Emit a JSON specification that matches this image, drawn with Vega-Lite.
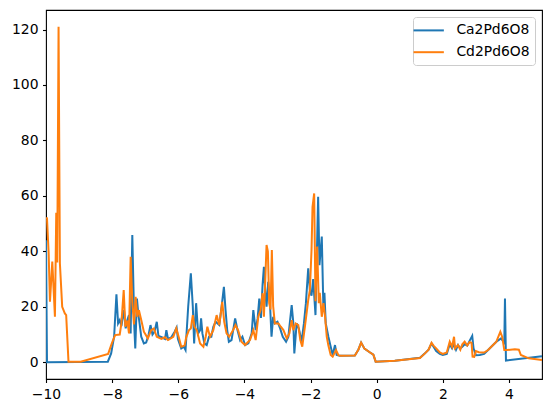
{
 "$schema": "https://vega.github.io/schema/vega-lite/v6.json",
 "width": 496,
 "height": 369,
 "autosize": {"type": "none"},
 "padding": {"left": 46, "top": 10, "right": 10, "bottom": 34},
 "datasets": {
  "ca": [
   {"e": -10.0, "d": 44}, {"e": -9.97, "d": 0}, {"e": -8.13, "d": 0.2}, {"e": -8.03, "d": 3.2}, {"e": -7.94, "d": 9.2},
   {"e": -7.87, "d": 24.5}, {"e": -7.82, "d": 14}, {"e": -7.77, "d": 15.2}, {"e": -7.72, "d": 13}, {"e": -7.64, "d": 18.8},
   {"e": -7.59, "d": 12.2}, {"e": -7.54, "d": 15.2}, {"e": -7.49, "d": 17}, {"e": -7.44, "d": 10.4}, {"e": -7.39, "d": 45.9},
   {"e": -7.33, "d": 12.8}, {"e": -7.30, "d": 5}, {"e": -7.25, "d": 23}, {"e": -7.21, "d": 17.6}, {"e": -7.17, "d": 14},
   {"e": -7.12, "d": 9.2}, {"e": -7.04, "d": 6.8}, {"e": -6.97, "d": 7.1}, {"e": -6.90, "d": 9.8}, {"e": -6.84, "d": 13.4},
   {"e": -6.78, "d": 10}, {"e": -6.72, "d": 11}, {"e": -6.65, "d": 14.6}, {"e": -6.60, "d": 9.5}, {"e": -6.50, "d": 9},
   {"e": -6.40, "d": 8.4}, {"e": -6.36, "d": 11.6}, {"e": -6.31, "d": 8.4}, {"e": -6.21, "d": 9}, {"e": -6.11, "d": 11},
   {"e": -6.05, "d": 12.5}, {"e": -6.01, "d": 8.4}, {"e": -5.91, "d": 5}, {"e": -5.83, "d": 5.6}, {"e": -5.78, "d": 4.4},
   {"e": -5.70, "d": 20}, {"e": -5.62, "d": 32.1}, {"e": -5.56, "d": 20}, {"e": -5.52, "d": 6.8}, {"e": -5.46, "d": 21.3},
   {"e": -5.40, "d": 10.4}, {"e": -5.34, "d": 11.6}, {"e": -5.31, "d": 15.8}, {"e": -5.27, "d": 10.4}, {"e": -5.21, "d": 6.8},
   {"e": -5.14, "d": 6.2}, {"e": -5.07, "d": 9.2}, {"e": -5.00, "d": 9.2}, {"e": -4.94, "d": 12.8}, {"e": -4.87, "d": 14.6},
   {"e": -4.76, "d": 13.4}, {"e": -4.69, "d": 20}, {"e": -4.62, "d": 27.2}, {"e": -4.57, "d": 18.8}, {"e": -4.52, "d": 11.6},
   {"e": -4.47, "d": 7.4}, {"e": -4.39, "d": 8}, {"e": -4.28, "d": 15.8}, {"e": -4.21, "d": 11.6}, {"e": -4.13, "d": 8},
   {"e": -4.06, "d": 9.2}, {"e": -3.98, "d": 6.2}, {"e": -3.88, "d": 6.8}, {"e": -3.78, "d": 10.4}, {"e": -3.73, "d": 18.8},
   {"e": -3.66, "d": 11.6}, {"e": -3.60, "d": 15.8}, {"e": -3.55, "d": 23}, {"e": -3.50, "d": 16}, {"e": -3.45, "d": 28},
   {"e": -3.41, "d": 34.4}, {"e": -3.36, "d": 24}, {"e": -3.33, "d": 20}, {"e": -3.28, "d": 29}, {"e": -3.23, "d": 22},
   {"e": -3.18, "d": 9.2}, {"e": -3.13, "d": 16.4}, {"e": -3.08, "d": 14}, {"e": -3.00, "d": 14.6}, {"e": -2.92, "d": 12.2},
   {"e": -2.84, "d": 9.2}, {"e": -2.74, "d": 7.4}, {"e": -2.67, "d": 9.2}, {"e": -2.57, "d": 20.6}, {"e": -2.52, "d": 14},
   {"e": -2.49, "d": 3.2}, {"e": -2.42, "d": 14}, {"e": -2.35, "d": 12}, {"e": -2.27, "d": 7.4}, {"e": -2.20, "d": 14},
   {"e": -2.14, "d": 21.3}, {"e": -2.07, "d": 33.9}, {"e": -2.02, "d": 26}, {"e": -1.97, "d": 24}, {"e": -1.92, "d": 30},
   {"e": -1.85, "d": 17}, {"e": -1.77, "d": 59.7}, {"e": -1.73, "d": 35}, {"e": -1.66, "d": 45.3}, {"e": -1.61, "d": 19},
   {"e": -1.58, "d": 25}, {"e": -1.54, "d": 14}, {"e": -1.46, "d": 9.2}, {"e": -1.39, "d": 5.6}, {"e": -1.33, "d": 2.6},
   {"e": -1.26, "d": 6.2}, {"e": -1.21, "d": 2.6}, {"e": -1.11, "d": 2.3}, {"e": -0.66, "d": 2.4}, {"e": -0.55, "d": 4.6},
   {"e": -0.47, "d": 7.1}, {"e": -0.37, "d": 4.9}, {"e": -0.20, "d": 3.5}, {"e": -0.10, "d": 2.7}, {"e": -0.03, "d": 0.2},
   {"e": 0.55, "d": 0.5}, {"e": 1.31, "d": 1.6}, {"e": 1.46, "d": 3.2}, {"e": 1.57, "d": 4.5}, {"e": 1.66, "d": 6.8},
   {"e": 1.72, "d": 5.6}, {"e": 1.80, "d": 4.0}, {"e": 1.91, "d": 3}, {"e": 2.00, "d": 2.6}, {"e": 2.12, "d": 3.0},
   {"e": 2.21, "d": 6.5}, {"e": 2.28, "d": 5}, {"e": 2.34, "d": 6.5}, {"e": 2.40, "d": 4.5}, {"e": 2.46, "d": 6.2},
   {"e": 2.53, "d": 5.0}, {"e": 2.59, "d": 5.6}, {"e": 2.66, "d": 6.5}, {"e": 2.74, "d": 6.0}, {"e": 2.81, "d": 7.7},
   {"e": 2.89, "d": 9.5}, {"e": 2.93, "d": 5}, {"e": 3.00, "d": 2.5}, {"e": 3.12, "d": 2.6}, {"e": 3.25, "d": 3},
   {"e": 3.37, "d": 4.4}, {"e": 3.52, "d": 6.2}, {"e": 3.62, "d": 7.4}, {"e": 3.76, "d": 8.6}, {"e": 3.86, "d": 7},
   {"e": 3.88, "d": 23}, {"e": 3.91, "d": 0.6}, {"e": 5.0, "d": 2.2}
  ],
  "cd": [
   {"e": -10.0, "d": 52}, {"e": -9.97, "d": 51.9}, {"e": -9.92, "d": 39.3}, {"e": -9.88, "d": 21.8}, {"e": -9.81, "d": 36.3},
   {"e": -9.73, "d": 16.4}, {"e": -9.69, "d": 53.9}, {"e": -9.66, "d": 36}, {"e": -9.62, "d": 121}, {"e": -9.58, "d": 35.7},
   {"e": -9.51, "d": 20}, {"e": -9.43, "d": 17.6}, {"e": -9.39, "d": 17}, {"e": -9.32, "d": 0.2}, {"e": -8.95, "d": 0.2},
   {"e": -8.12, "d": 3}, {"e": -8.01, "d": 6.8}, {"e": -7.91, "d": 9.8}, {"e": -7.77, "d": 10}, {"e": -7.72, "d": 14},
   {"e": -7.65, "d": 26}, {"e": -7.60, "d": 12.8}, {"e": -7.54, "d": 15}, {"e": -7.49, "d": 10.4}, {"e": -7.44, "d": 38},
   {"e": -7.39, "d": 21.8}, {"e": -7.34, "d": 13.6}, {"e": -7.29, "d": 23.6}, {"e": -7.24, "d": 16.4}, {"e": -7.19, "d": 18.8},
   {"e": -7.12, "d": 15.2}, {"e": -7.04, "d": 11}, {"e": -6.92, "d": 8.6}, {"e": -6.82, "d": 11.6}, {"e": -6.74, "d": 12.2},
   {"e": -6.65, "d": 9.2}, {"e": -6.51, "d": 8.4}, {"e": -6.41, "d": 9}, {"e": -6.31, "d": 8}, {"e": -6.15, "d": 9.2},
   {"e": -6.06, "d": 12.2}, {"e": -5.97, "d": 8.4}, {"e": -5.91, "d": 5.6}, {"e": -5.81, "d": 6}, {"e": -5.76, "d": 9},
   {"e": -5.68, "d": 11.5}, {"e": -5.62, "d": 12.2}, {"e": -5.56, "d": 17}, {"e": -5.51, "d": 12.8}, {"e": -5.44, "d": 11.6},
   {"e": -5.34, "d": 6.8}, {"e": -5.24, "d": 5.6}, {"e": -5.17, "d": 9.2}, {"e": -5.12, "d": 12.8}, {"e": -5.04, "d": 9.2},
   {"e": -4.94, "d": 11.6}, {"e": -4.84, "d": 17}, {"e": -4.76, "d": 13.4}, {"e": -4.67, "d": 21.8}, {"e": -4.61, "d": 14.6},
   {"e": -4.54, "d": 10.4}, {"e": -4.46, "d": 9.2}, {"e": -4.34, "d": 11.6}, {"e": -4.27, "d": 13.4}, {"e": -4.19, "d": 11.6},
   {"e": -4.09, "d": 7.4}, {"e": -3.98, "d": 6.2}, {"e": -3.83, "d": 8}, {"e": -3.73, "d": 11.6}, {"e": -3.66, "d": 8},
   {"e": -3.58, "d": 16.4}, {"e": -3.51, "d": 18.8}, {"e": -3.45, "d": 24.9}, {"e": -3.41, "d": 16.4}, {"e": -3.33, "d": 42.3},
   {"e": -3.29, "d": 40}, {"e": -3.25, "d": 21.3}, {"e": -3.21, "d": 19}, {"e": -3.17, "d": 40.5}, {"e": -3.13, "d": 20.2},
   {"e": -3.08, "d": 14}, {"e": -2.97, "d": 14}, {"e": -2.90, "d": 12.8}, {"e": -2.82, "d": 11.6}, {"e": -2.72, "d": 8.6},
   {"e": -2.64, "d": 10.4}, {"e": -2.57, "d": 15.2}, {"e": -2.52, "d": 11.6}, {"e": -2.45, "d": 14}, {"e": -2.37, "d": 13.4},
   {"e": -2.31, "d": 8}, {"e": -2.25, "d": 5.6}, {"e": -2.17, "d": 12.8}, {"e": -2.07, "d": 22.4}, {"e": -2.02, "d": 26},
   {"e": -1.97, "d": 40.5}, {"e": -1.94, "d": 56}, {"e": -1.89, "d": 60.9}, {"e": -1.85, "d": 22}, {"e": -1.80, "d": 41.7},
   {"e": -1.75, "d": 21.3}, {"e": -1.72, "d": 25}, {"e": -1.66, "d": 16.4}, {"e": -1.61, "d": 21.3}, {"e": -1.56, "d": 16.4},
   {"e": -1.51, "d": 9.2}, {"e": -1.46, "d": 6}, {"e": -1.39, "d": 2.6}, {"e": -1.33, "d": 2}, {"e": -1.23, "d": 4.4},
   {"e": -1.16, "d": 2.6}, {"e": -1.11, "d": 2.3}, {"e": -0.66, "d": 2.4}, {"e": -0.55, "d": 4.6}, {"e": -0.47, "d": 7.1},
   {"e": -0.37, "d": 4.9}, {"e": -0.20, "d": 3.5}, {"e": -0.10, "d": 2.7}, {"e": -0.03, "d": 0.2}, {"e": 0.55, "d": 0.5},
   {"e": 1.31, "d": 1.5}, {"e": 1.46, "d": 3.2}, {"e": 1.57, "d": 4.5}, {"e": 1.66, "d": 7}, {"e": 1.72, "d": 6},
   {"e": 1.80, "d": 5}, {"e": 1.91, "d": 3.5}, {"e": 2.00, "d": 3.0}, {"e": 2.12, "d": 3.5}, {"e": 2.21, "d": 7.4},
   {"e": 2.28, "d": 5.6}, {"e": 2.34, "d": 9.2}, {"e": 2.37, "d": 5}, {"e": 2.46, "d": 6.2}, {"e": 2.53, "d": 4.5},
   {"e": 2.59, "d": 6.5}, {"e": 2.66, "d": 7.4}, {"e": 2.74, "d": 6}, {"e": 2.81, "d": 7.2}, {"e": 2.87, "d": 7},
   {"e": 2.90, "d": 2}, {"e": 2.95, "d": 1.9}, {"e": 3.00, "d": 4}, {"e": 3.09, "d": 3.6}, {"e": 3.25, "d": 3.5},
   {"e": 3.37, "d": 4.4}, {"e": 3.52, "d": 6.2}, {"e": 3.62, "d": 7.4}, {"e": 3.74, "d": 11}, {"e": 3.80, "d": 9},
   {"e": 3.86, "d": 4.4}, {"e": 3.93, "d": 4.4}, {"e": 4.18, "d": 4.7}, {"e": 4.30, "d": 4.5}, {"e": 4.36, "d": 2.6},
   {"e": 4.60, "d": 1.4}, {"e": 5.0, "d": 0.8}
  ]
 },
 "layer": [
  {
   "data": {"name": "ca"},
   "mark": {"type": "line", "strokeWidth": 2, "clip": true, "color": "#1f77b4"},
   "encoding": {
    "x": {"field": "e", "type": "quantitative", "scale": {"domain": [-10, 5], "nice": false, "zero": false}, "axis": {"values": [-10, -8, -6, -4, -2, 0, 2, 4], "title": null, "labelFlush": false}},
    "y": {"field": "d", "type": "quantitative", "scale": {"domain": [-6.05, 127.05], "nice": false, "zero": false}, "axis": {"values": [0, 20, 40, 60, 80, 100, 120], "title": null, "labelFlush": false}},
    "color": {"datum": "Ca2Pd6O8", "type": "nominal", "scale": {"domain": ["Ca2Pd6O8", "Cd2Pd6O8"], "range": ["#1f77b4", "#ff7f0e"]},
     "legend": {"title": null, "orient": "top-right", "offset": 7, "symbolType": "M-2.2,0H2.2", "symbolSize": 190, "symbolStrokeWidth": 2, "symbolOffset": 2.3, "labelFontSize": 13.9, "labelFont": "DejaVu Sans", "labelColor": "black", "fillColor": "white", "strokeColor": "#cccccc", "cornerRadius": 3, "padding": 5.4, "rowPadding": 6.8, "labelOffset": 19.7}}
   }
  },
  {
   "data": {"name": "cd"},
   "mark": {"type": "line", "strokeWidth": 2, "clip": true, "color": "#ff7f0e"},
   "encoding": {
    "x": {"field": "e", "type": "quantitative"},
    "y": {"field": "d", "type": "quantitative"},
    "color": {"datum": "Cd2Pd6O8", "type": "nominal"}
   }
  }
 ],
 "config": {
  "font": "DejaVu Sans",
  "view": {"stroke": "black", "strokeWidth": 1.1},
  "axis": {"domain": false, "grid": false, "tickColor": "black", "tickSize": 3.5, "tickWidth": 1.1, "labelFont": "DejaVu Sans", "labelFontSize": 13.9, "labelColor": "black", "labelPadding": 4.5, "labelFlush": false}
 }
}
